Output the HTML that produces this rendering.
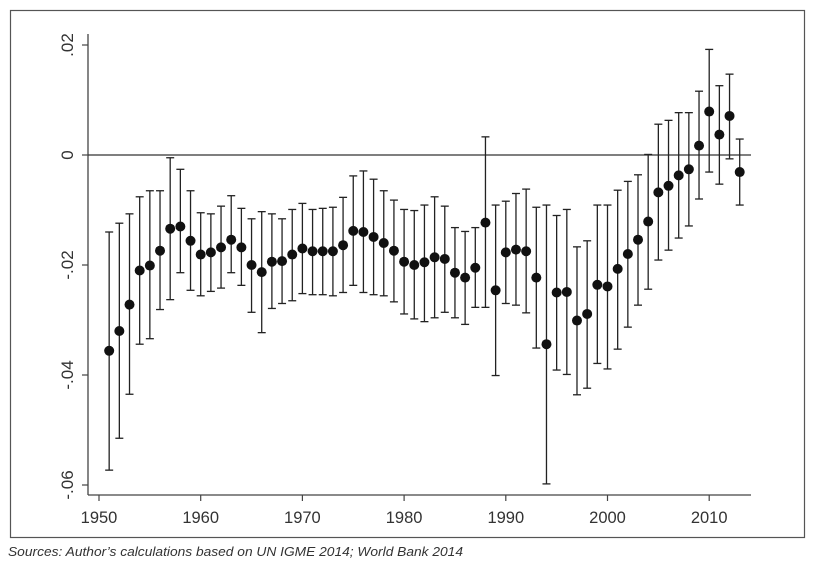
<!DOCTYPE html>
<html><head><meta charset="utf-8"><style>
body{margin:0;background:#fff;width:816px;height:571px;overflow:hidden;font-family:"Liberation Sans",sans-serif}
svg{display:block}
</style></head><body>
<svg id="c" width="816" height="571">
<rect x="10.5" y="10.5" width="794" height="527" fill="none" stroke="#555" stroke-width="1.2"/>
<text x="8" y="556" font-size="13" font-style="italic" fill="#333" textLength="455" lengthAdjust="spacingAndGlyphs" font-family="'Liberation Sans',sans-serif">Sources: Author’s calculations based on UN IGME 2014; World Bank 2014</text>
<g id="axes"></g><g id="marks"></g>
</svg>
<script>
const years=[1951,1952,1953,1954,1955,1956,1957,1958,1959,1960,1961,1962,1963,1964,1965,1966,1967,1968,1969,1970,1971,1972,1973,1974,1975,1976,1977,1978,1979,1980,1981,1982,1983,1984,1985,1986,1987,1988,1989,1990,1991,1992,1993,1994,1995,1996,1997,1998,1999,2000,2001,2002,2003,2004,2005,2006,2007,2008,2009,2010,2011,2012,2013];
const estimates=[-0.0356,-0.0320,-0.0272,-0.0210,-0.0201,-0.0174,-0.0134,-0.0130,-0.0156,-0.0181,-0.0177,-0.0168,-0.0154,-0.0168,-0.0200,-0.0213,-0.0194,-0.0193,-0.0181,-0.0170,-0.0175,-0.0175,-0.0175,-0.0164,-0.0138,-0.0140,-0.0149,-0.0160,-0.0174,-0.0194,-0.0200,-0.0195,-0.0186,-0.0189,-0.0214,-0.0223,-0.0205,-0.0123,-0.0246,-0.0177,-0.0172,-0.0175,-0.0223,-0.0344,-0.0250,-0.0249,-0.0301,-0.0289,-0.0236,-0.0239,-0.0207,-0.0180,-0.0154,-0.0121,-0.0068,-0.0056,-0.0037,-0.0026,0.0017,0.0079,0.0037,0.0071,-0.0031];
const upper=[-0.0140,-0.0124,-0.0107,-0.0076,-0.0065,-0.0065,-0.0005,-0.0026,-0.0065,-0.0105,-0.0107,-0.0093,-0.0074,-0.0097,-0.0116,-0.0103,-0.0107,-0.0116,-0.0099,-0.0088,-0.0099,-0.0097,-0.0095,-0.0077,-0.0038,-0.0029,-0.0044,-0.0065,-0.0082,-0.0099,-0.0101,-0.0091,-0.0076,-0.0093,-0.0132,-0.0139,-0.0132,0.0033,-0.0091,-0.0084,-0.0070,-0.0062,-0.0095,-0.0091,-0.0110,-0.0099,-0.0167,-0.0156,-0.0091,-0.0091,-0.0064,-0.0048,-0.0036,0.0001,0.0056,0.0063,0.0077,0.0077,0.0116,0.0192,0.0126,0.0147,0.0029];
const lower=[-0.0573,-0.0515,-0.0435,-0.0344,-0.0334,-0.0281,-0.0263,-0.0214,-0.0246,-0.0256,-0.0248,-0.0242,-0.0214,-0.0237,-0.0286,-0.0323,-0.0279,-0.0270,-0.0265,-0.0252,-0.0254,-0.0254,-0.0256,-0.0250,-0.0237,-0.0250,-0.0254,-0.0256,-0.0267,-0.0289,-0.0298,-0.0303,-0.0296,-0.0286,-0.0296,-0.0308,-0.0277,-0.0277,-0.0401,-0.0270,-0.0273,-0.0287,-0.0351,-0.0598,-0.0391,-0.0399,-0.0436,-0.0424,-0.0379,-0.0389,-0.0353,-0.0313,-0.0273,-0.0244,-0.0191,-0.0173,-0.0151,-0.0129,-0.0080,-0.0031,-0.0053,-0.0007,-0.0091];
const yTicks=[0.02,0,-0.02,-0.04,-0.06];
const yTickLabels=[".02","0","-.02","-.04","-.06"];
const xTicks=[1950,1960,1970,1980,1990,2000,2010];

const NS="http://www.w3.org/2000/svg";
const xS=v=>99+(v-1950)*10.17;
const yS=v=>155-v*5500;
const col="#222";
function mk(tag,attrs,parent){const e=document.createElementNS(NS,tag);for(const k in attrs)e.setAttribute(k,attrs[k]);parent.appendChild(e);return e;}
const ax=document.getElementById('axes'),mg=document.getElementById('marks');
let e;
e=mk('line',{x1:88,y1:34,x2:88,y2:495,stroke:'#444','stroke-width':1.3},ax);


e=mk('line',{x1:88,y1:495,x2:751,y2:495,stroke:'#444','stroke-width':1.3},ax);


e=mk('line',{x1:88,y1:yS(0),x2:751,y2:yS(0),stroke:'#333','stroke-width':1.2},ax);


yTicks.forEach((v,i)=>{
 const y=yS(v);
 e=mk('line',{x1:82,y1:y,x2:88,y2:y,stroke:'#444','stroke-width':1.2},ax);
 
 
 e=mk('text',{x:0,y:0,transform:`translate(73,${y}) rotate(-90)`,'text-anchor':'middle','font-size':17,fill:'#333'},ax);
 e.textContent=yTickLabels[i];
 
 
});
xTicks.forEach(v=>{
 const x=xS(v);
 e=mk('line',{x1:x,y1:495,x2:x,y2:501,stroke:'#444','stroke-width':1.2},ax);
 
 
 e=mk('text',{x:x,y:523,'text-anchor':'middle','font-size':16.5,fill:'#333'},ax);
 e.textContent=v;
 
 
});
years.forEach((yr,i)=>{
 const x=xS(yr),yt=yS(upper[i]),yb=yS(lower[i]);
 const g=mk('g',{},mg);
 
 
 mk('line',{x1:x,y1:yt,x2:x,y2:yb,stroke:col,'stroke-width':1.3},g);
 mk('line',{x1:x-4,y1:yt,x2:x+4,y2:yt,stroke:col,'stroke-width':1.3},g);
 mk('line',{x1:x-4,y1:yb,x2:x+4,y2:yb,stroke:col,'stroke-width':1.3},g);
 e=mk('circle',{cx:x,cy:yS(estimates[i]),r:5,fill:'#111'},mg);
 
 
});
</script>
</body></html>
